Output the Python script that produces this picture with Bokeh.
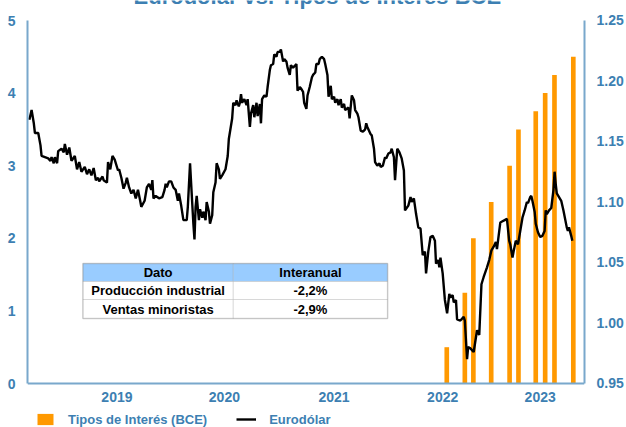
from bokeh.plotting import figure
from bokeh.models import (Range1d, LinearAxis, FixedTicker, NumeralTickFormatter,
                          BoxAnnotation, Label, Legend, LegendItem, Span)
from bokeh.embed import file_html
from bokeh.resources import INLINE

# ---------------- data ----------------
eur_t = [2018.79, 2018.81, 2018.83, 2018.84, 2018.87, 2018.89, 2018.90, 2018.93, 2018.96, 2018.98,
         2018.99, 2019.01, 2019.02, 2019.04, 2019.05, 2019.08, 2019.10, 2019.11, 2019.13, 2019.15,
         2019.17, 2019.20, 2019.22, 2019.24, 2019.26, 2019.29, 2019.31, 2019.33, 2019.35, 2019.37,
         2019.39, 2019.41, 2019.42, 2019.45, 2019.46, 2019.49, 2019.50, 2019.52, 2019.54, 2019.56,
         2019.59, 2019.60, 2019.62, 2019.64, 2019.66, 2019.67, 2019.69, 2019.71, 2019.73, 2019.75,
         2019.77, 2019.79, 2019.80, 2019.83, 2019.85, 2019.87, 2019.89, 2019.90, 2019.91, 2019.93,
         2019.96, 2019.99, 2020.01, 2020.02, 2020.03, 2020.05, 2020.07, 2020.09, 2020.11, 2020.13,
         2020.14, 2020.16, 2020.18, 2020.21, 2020.22, 2020.24, 2020.25, 2020.27, 2020.28, 2020.29,
         2020.30, 2020.32, 2020.33, 2020.35, 2020.36, 2020.38, 2020.39, 2020.41, 2020.42, 2020.44,
         2020.45, 2020.47, 2020.48, 2020.50, 2020.51, 2020.53, 2020.56, 2020.58, 2020.59, 2020.62,
         2020.63, 2020.65, 2020.66, 2020.68, 2020.69, 2020.70, 2020.71, 2020.73, 2020.75, 2020.76,
         2020.78, 2020.79, 2020.81, 2020.82, 2020.84, 2020.85, 2020.87, 2020.88, 2020.89, 2020.91,
         2020.93, 2020.94, 2020.96, 2020.97, 2020.99, 2021.00, 2021.02, 2021.03, 2021.05, 2021.06,
         2021.08, 2021.09, 2021.11, 2021.12, 2021.14, 2021.15, 2021.17, 2021.19, 2021.20, 2021.21,
         2021.23, 2021.24, 2021.26, 2021.27, 2021.29, 2021.30, 2021.32, 2021.34, 2021.35, 2021.37,
         2021.38, 2021.40, 2021.41, 2021.43, 2021.45, 2021.46, 2021.48, 2021.49, 2021.51, 2021.52,
         2021.54, 2021.55, 2021.57, 2021.58, 2021.60, 2021.61, 2021.63, 2021.64, 2021.67, 2021.68,
         2021.70, 2021.72, 2021.73, 2021.75, 2021.76, 2021.78, 2021.80, 2021.82, 2021.83, 2021.84,
         2021.87, 2021.88, 2021.90, 2021.91, 2021.93, 2021.95, 2021.96, 2021.98, 2022.00, 2022.01,
         2022.03, 2022.05, 2022.06, 2022.08, 2022.09, 2022.11, 2022.13, 2022.15, 2022.17, 2022.18,
         2022.21, 2022.23, 2022.24, 2022.26, 2022.28, 2022.30, 2022.32, 2022.34, 2022.36, 2022.37,
         2022.39, 2022.41, 2022.43, 2022.45, 2022.46, 2022.48, 2022.49, 2022.50, 2022.52, 2022.54,
         2022.56, 2022.58, 2022.59, 2022.61, 2022.62, 2022.64, 2022.65, 2022.68, 2022.71, 2022.72,
         2022.74, 2022.75, 2022.77, 2022.80, 2022.82, 2022.83, 2022.85, 2022.87, 2022.89, 2022.92,
         2022.94, 2022.96, 2022.98, 2023.00, 2023.01, 2023.04, 2023.06, 2023.08, 2023.10, 2023.12,
         2023.13, 2023.15, 2023.16, 2023.18, 2023.20, 2023.22, 2023.24, 2023.26, 2023.28, 2023.29,
         2023.31, 2023.32, 2023.33, 2023.35, 2023.36, 2023.38, 2023.40, 2023.42, 2023.44, 2023.45,
         2023.46, 2023.48, 2023.50, 2023.52, 2023.53, 2023.54, 2023.55, 2023.57, 2023.59, 2023.61,
         2023.64, 2023.65, 2023.66, 2023.68, 2023.69]

eur_v = [1.168, 1.176, 1.165, 1.157, 1.157, 1.147, 1.138, 1.137, 1.136, 1.134,
         1.137, 1.132, 1.137, 1.132, 1.142, 1.144, 1.141, 1.148, 1.139, 1.145,
         1.134, 1.138, 1.127, 1.133, 1.125, 1.129, 1.123, 1.127, 1.122, 1.128,
         1.118, 1.120, 1.117, 1.121, 1.118, 1.116, 1.133, 1.127, 1.138, 1.135,
         1.126, 1.127, 1.120, 1.111, 1.116, 1.120, 1.112, 1.107, 1.110, 1.103,
         1.110, 1.101, 1.096, 1.101, 1.112, 1.115, 1.110, 1.118, 1.103, 1.105,
         1.103, 1.104, 1.110, 1.115, 1.112, 1.117, 1.117, 1.112, 1.110, 1.101,
         1.107, 1.097, 1.085, 1.085, 1.096, 1.132, 1.115, 1.082, 1.069, 1.096,
         1.105, 1.085, 1.094, 1.087, 1.092, 1.085, 1.100, 1.092, 1.082, 1.089,
         1.108, 1.116, 1.132, 1.127, 1.119, 1.122, 1.127, 1.138, 1.152, 1.169,
         1.182, 1.180, 1.184, 1.179, 1.182, 1.189, 1.182, 1.185, 1.180, 1.185,
         1.162, 1.173, 1.180, 1.170, 1.182, 1.171, 1.181, 1.165, 1.185, 1.188,
         1.187, 1.195, 1.209, 1.213, 1.214, 1.222, 1.220, 1.224, 1.224, 1.226,
         1.216, 1.218, 1.216, 1.211, 1.205, 1.213, 1.211, 1.213, 1.214, 1.192,
         1.195, 1.194, 1.191, 1.182, 1.177, 1.188, 1.195, 1.203, 1.205, 1.207,
         1.214, 1.214, 1.218, 1.220, 1.218, 1.214, 1.205, 1.187, 1.196, 1.185,
         1.187, 1.182, 1.185, 1.180, 1.185, 1.178, 1.181, 1.176, 1.178, 1.169,
         1.188, 1.184, 1.176, 1.173, 1.170, 1.159, 1.158, 1.160, 1.165, 1.162,
         1.156, 1.155, 1.144, 1.133, 1.130, 1.132, 1.129, 1.130, 1.137, 1.136,
         1.140, 1.141, 1.144, 1.137, 1.118, 1.144, 1.141, 1.136, 1.126, 1.093,
         1.097, 1.104, 1.100, 1.103, 1.090, 1.079, 1.078, 1.056, 1.059, 1.041,
         1.059, 1.071, 1.072, 1.068, 1.049, 1.052, 1.046, 1.054, 1.041, 1.019,
         1.008, 1.024, 1.021, 1.023, 1.017, 1.019, 1.003, 1.002, 1.005, 1.002,
         0.970, 0.980, 0.979, 0.976, 0.988, 0.994, 0.990, 1.032, 1.038, 1.046,
         1.052, 1.060, 1.063, 1.067, 1.061, 1.083, 1.084, 1.085, 1.086, 1.068,
         1.065, 1.054, 1.059, 1.068, 1.065, 1.076, 1.087, 1.093, 1.100, 1.099,
         1.104, 1.105, 1.101, 1.092, 1.082, 1.075, 1.071, 1.072, 1.076, 1.093,
         1.090, 1.093, 1.095, 1.110, 1.125, 1.115, 1.107, 1.104, 1.101, 1.093,
         1.079, 1.076, 1.079, 1.072, 1.068]

bce_t = [2022.557, 2022.720, 2022.797, 2022.958, 2023.124, 2023.204, 2023.360, 2023.445, 2023.529, 2023.699]
bce_rate = [0.50, 1.25, 2.00, 2.50, 3.00, 3.50, 3.75, 4.00, 4.25, 4.50]

year_pos = [2019.58, 2020.55, 2021.54, 2022.52, 2023.40]
year_lbl = ["2019", "2020", "2021", "2022", "2023"]

left_ticks = [0, 1, 2, 3, 4, 5]
right_ticks = [0.95, 1.00, 1.05, 1.10, 1.15, 1.20, 1.25]

table_header = ["Dato", "Interanual"]
table_rows = [["Producción industrial", "-2,2%"], ["Ventas minoristas", "-2,9%"]]

title_text = "Eurodólar vs. Tipos de Interés BCE"

# ---------------- style ----------------
FONT = "Liberation Sans"
BLUE_TXT = "#3D7FB2"
AXIS_CLR = "#79A8CC"
ORANGE = "#FF9900"

# the frame covers the full height; the visible axes only span 0..5 / 0.95..1.25
p = figure(width=626, height=427, output_backend="svg", toolbar_location=None,
           x_range=Range1d(2018.773, 2023.80), y_range=Range1d(-0.606, 5.2755),
           min_border_left=27, min_border_right=36, min_border_top=0, min_border_bottom=0,
           background_fill_color="white", border_fill_color="white")
p.extra_y_ranges = {"right": Range1d(0.9136, 1.2665)}
p.grid.visible = False
p.outline_line_color = None
p.xaxis.visible = False

right_axis = LinearAxis(y_range_name="right")
p.add_layout(right_axis, "right")

for ax in [p.yaxis[0], right_axis]:
    ax.axis_line_color = AXIS_CLR
    ax.axis_line_width = 2
    ax.major_tick_line_color = None
    ax.minor_tick_line_color = None
    ax.major_label_text_font = FONT
    ax.major_label_text_font_style = "bold"
    ax.major_label_text_font_size = "14px"
    ax.major_label_text_color = BLUE_TXT
    ax.major_label_standoff = 6

p.yaxis[0].ticker = FixedTicker(ticks=left_ticks)
p.yaxis[0].bounds = (left_ticks[0], left_ticks[-1])
right_axis.ticker = FixedTicker(ticks=right_ticks)
right_axis.formatter = NumeralTickFormatter(format="0.00")
right_axis.bounds = (right_ticks[0], right_ticks[-1])

# bottom axis line and year labels
p.add_layout(Span(location=0, dimension="width", line_color=AXIS_CLR, line_width=2))
for pos, lbl in zip(year_pos, year_lbl):
    p.add_layout(Label(x=pos, y=-0.18, text=lbl, text_align="center", text_baseline="middle",
                       text_font=FONT, text_font_style="bold", text_font_size="14px",
                       text_color=BLUE_TXT))

# bars (left axis) and line (right axis)
bars = p.vbar(x=bce_t, top=bce_rate, width=0.042, fill_color=ORANGE, line_color=None)
eur_line = p.line(eur_t, eur_v, y_range_name="right", line_color="black", line_width=2.4)

legend = Legend(items=[LegendItem(label="Tipos de Interés (BCE)", renderers=[bars]),
                       LegendItem(label="Eurodólar", renderers=[eur_line])],
                location=(8, 0), orientation="horizontal",
                border_line_color=None, background_fill_alpha=0,
                padding=0, margin=0, spacing=29, glyph_width=20, glyph_height=14,
                label_height=16,
                label_standoff=13, label_text_font=FONT, label_text_font_size="13px",
                label_text_font_style="bold", label_text_color=BLUE_TXT)
p.add_layout(legend)

# table (annotation)
tx = [2019.273, 2020.630, 2022.023]
ty = [1.653, 1.405, 1.157, 0.895]
for r in range(3):
    for c in range(2):
        p.add_layout(BoxAnnotation(left=tx[c], right=tx[c + 1], top=ty[r], bottom=ty[r + 1],
                                   fill_color="#99CCFF" if r == 0 else "white", fill_alpha=1,
                                   line_color="#A0A0A0", line_width=1, level="annotation"))
p.add_layout(BoxAnnotation(left=tx[0], right=tx[2], top=ty[0], bottom=ty[3],
                           fill_alpha=0, line_color="#808080", line_width=1.5, level="annotation"))
rows = [table_header] + table_rows
for r, row in enumerate(rows):
    for c, txt in enumerate(row):
        p.add_layout(Label(x=(tx[c] + tx[c + 1]) / 2, y=(ty[r] + ty[r + 1]) / 2, text=txt,
                           text_align="center", text_baseline="middle", text_font=FONT,
                           text_font_style="bold", text_font_size="13px", text_color="black"))

# title (cut at the top, as in the reference)
p.add_layout(Label(x=2021.389, y=5.33, text=title_text, text_align="center",
                   text_baseline="alphabetic", text_font=FONT, text_font_style="bold",
                   text_font_size="22px", text_color=BLUE_TXT))

open("out.html", "w").write(file_html(p, INLINE))
